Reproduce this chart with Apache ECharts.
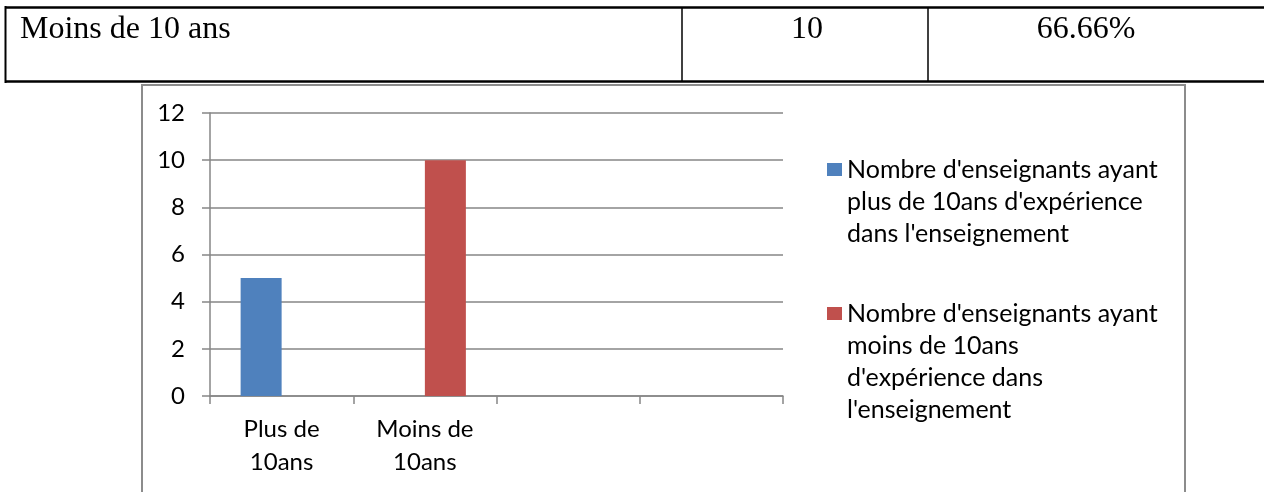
<!DOCTYPE html>
<html>
<head>
<meta charset="utf-8">
<script src="https://cdn.jsdelivr.net/npm/echarts@6/dist/echarts.min.js"></script>
<style>
  *{
    margin: 0;
    padding: 0;
  }
  body{
    background: #ffffff;
  }
  #chart{
    width: 1264px;
    height: 492px;
  }
</style>
</head>
<body>
<div id="chart"></div>
<script>
  // table row above the chart
  const tableRow = ["Moins de 10 ans", "10", "66.66%"];

  // chart data
  const categories = ["Plus de\n10ans", "Moins de\n10ans", "", ""];
  const seriesNames = [
    "Nombre d'enseignants ayant\nplus de 10ans d'expérience\ndans l'enseignement",
    "Nombre d'enseignants ayant\nmoins de 10ans\nd'expérience dans\nl'enseignement"
  ];
  const plusValues = [5, null, null, null];
  const moinsValues = [null, 10, null, null];
  const yTicks = { min: 0, max: 12, interval: 2 };

  const font = "Lato";
  const lh = 32;

  let chart = echarts.init(document.getElementById("chart"));

  chart.setOption({
    animation: false,
    textStyle: { fontFamily: font },
    grid: {
      left: 210,
      right: 481,
      top: 113,
      bottom: 96
    },
    // table + chart frame
    graphic: [
      { type: "rect", shape: { x: 142, y: 85, width: 1043, height: 420 },
        style: { fill: "none", stroke: "#8c8c8c", lineWidth: 2 } },
      { type: "line", shape: { x1: 5, y1: 7.5, x2: 1264, y2: 7.5 }, style: { stroke: "#000", lineWidth: 2.5 } },
      { type: "line", shape: { x1: 5, y1: 81.5, x2: 1264, y2: 81.5 }, style: { stroke: "#000", lineWidth: 2.5 } },
      { type: "line", shape: { x1: 5.5, y1: 6, x2: 5.5, y2: 83 }, style: { stroke: "#000", lineWidth: 2 } },
      { type: "line", shape: { x1: 682, y1: 7, x2: 682, y2: 82 }, style: { stroke: "#000", lineWidth: 1.5 } },
      { type: "line", shape: { x1: 928, y1: 7, x2: 928, y2: 82 }, style: { stroke: "#000", lineWidth: 1.5 } },
      { type: "text", x: 20, y: 30, style: { text: tableRow[0], font: "32px 'Liberation Serif'", fill: "#000", verticalAlign: "middle" } },
      { type: "text", x: 807, y: 30, style: { text: tableRow[1], font: "32px 'Liberation Serif'", fill: "#000", align: "center", verticalAlign: "middle" } },
      { type: "text", x: 1086, y: 30, style: { text: tableRow[2], font: "32px 'Liberation Serif'", fill: "#000", align: "center", verticalAlign: "middle" } }
    ],
    legend: {
      orient: "vertical",
      left: 827,
      top: 89.5,
      padding: 0,
      itemGap: -48,
      itemWidth: 15,
      itemHeight: 13,
      icon: "rect",
      // blank lines above so the square sits beside the first line
      formatter: function (name) {
        let n = name.split("\n").length;
        return "\n".repeat(n - 1) + name;
      },
      textStyle: {
        fontFamily: font,
        fontSize: 25,
        lineHeight: lh,
        color: "#000"
      },
      data: seriesNames
    },
    xAxis: {
      type: "category",
      data: categories,
      axisLine: { lineStyle: { color: "#868686", width: 1.5 } },
      axisTick: { show: true, length: 8, lineStyle: { color: "#868686", width: 1.5 } },
      axisLabel: {
        color: "#000",
        fontFamily: font,
        fontSize: 24,
        lineHeight: 33,
        margin: 17,
        interval: 0
      }
    },
    yAxis: {
      type: "value",
      min: yTicks.min,
      max: yTicks.max,
      interval: yTicks.interval,
      axisLine: { show: true, lineStyle: { color: "#868686", width: 1.5 } },
      axisTick: { show: true, length: 8, lineStyle: { color: "#868686", width: 1.5 } },
      splitLine: { lineStyle: { color: "#868686", width: 1.5 } },
      axisLabel: {
        color: "#000",
        fontFamily: font,
        fontSize: 24,
        margin: 25
      }
    },
    series: [
      {
        name: seriesNames[0],
        type: "bar",
        data: plusValues,
        barWidth: 41,
        barGap: "0%",
        itemStyle: { color: "#4f81bd" }
      },
      {
        name: seriesNames[1],
        type: "bar",
        data: moinsValues,
        barWidth: 41,
        barGap: "0%",
        itemStyle: { color: "#c0504d" }
      }
    ]
  });
</script>
</body>
</html>
